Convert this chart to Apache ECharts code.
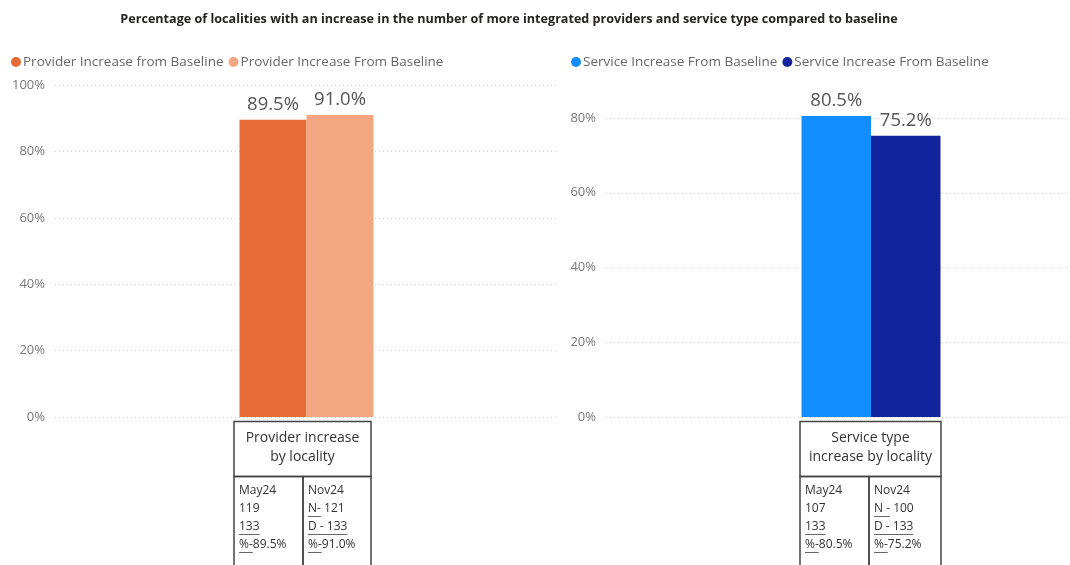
<!DOCTYPE html>
<html>
<head>
<meta charset="utf-8">
<script src="https://cdn.jsdelivr.net/npm/echarts@6/dist/echarts.min.js"></script>
<style>
  html, body { margin: 0; padding: 0; background: #fff; }
  #chart { width: 1070px; height: 565px; }
</style>
</head>
<body>
<div id="chart"></div>
<script>
// ---------- data ----------
const chartTitle = 'Percentage of localities with an increase in the number of more integrated providers and service type compared to baseline';
const providerCategory = ['Provider increase by locality'];
const providerSeriesNames = ['Provider Increase from Baseline', 'Provider Increase From Baseline'];
const providerMay = [89.5];
const providerNov = [91.0];
const serviceCategory = ['Service type increase by locality'];
const serviceSeriesNames = ['Service Increase From Baseline', 'Service Increase From Baseline\u200b'];
const serviceMay = [80.5];
const serviceNov = [75.2];
const providerTicks = [0, 20, 40, 60, 80, 100];
const serviceTicks = [0, 20, 40, 60, 80];

const providerHeader = ['Provider increase', 'by locality'];
const providerMayLines = ['May24', '119', '133', '%-89.5%'];
const providerMayUnder = ['', '', '133', '%-'];
const providerNovLines = ['Nov24', 'N- 121', 'D - 133', '%-91.0%'];
const providerNovUnder = ['', 'N-', 'D - 133', '%-'];
const serviceHeader = ['Service type', 'increase by locality'];
const serviceMayLines = ['May24', '107', '133', '%-80.5%'];
const serviceMayUnder = ['', '', '133', '%-'];
const serviceNovLines = ['Nov24', 'N - 100', 'D - 133', '%-75.2%'];
const serviceNovUnder = ['', 'N -', 'D - 133', '%-'];

// ---------- styles ----------
const FONT = "'Open Sans', 'Noto Sans', sans-serif";
const colors = ['#E66C37', '#F4A683', '#118DFF', '#12239E'];

const chart = echarts.init(document.getElementById('chart'), null, { renderer: 'canvas' });

const ctx = document.createElement('canvas').getContext('2d');
function textW(t, size) { ctx.font = size + 'px ' + FONT; return ctx.measureText(t).width; }

const splitLine = { show: true, lineStyle: { color: '#cfcfcf', type: [1, 3], width: 1 } };
const yLabel = { color: '#777', fontSize: 13, fontFamily: FONT, margin: 10, formatter: v => v + '%' };

function barSeries(name, data, color, xi, yi) {
  return {
    type: 'bar', name, data, xAxisIndex: xi, yAxisIndex: yi,
    barWidth: xi === 0 ? 67 : 69.5, barGap: '0%',
    itemStyle: { color },
    label: { show: true, position: 'top', distance: 6, formatter: p => p.value.toFixed(1) + '%',
      color: '#555', fontSize: 18.5, fontFamily: FONT }
  };
}

// ---------- table graphics ----------
const graphics = [];
function box(x, y, w, h) {
  graphics.push({ type: 'rect', shape: { x, y, width: w, height: h },
    style: { fill: 'none', stroke: '#444', lineWidth: 1.5 } });
}
function addTable(x0, headW, leftW, headLines, mayLines, mayUnder, novLines, novUnder) {
  const y0 = 421.5, headH = 55;
  box(x0, y0, headW, headH);
  box(x0, y0 + headH, leftW, 120);
  box(x0 + leftW, y0 + headH, headW - leftW, 120);
  headLines.forEach((t, i) => {
    graphics.push({ type: 'text', x: x0 + headW / 2, y: y0 + 17 + i * 19,
      style: { text: t, fill: '#333', font: '14px ' + FONT, align: 'center', verticalAlign: 'middle' } });
  });
  [[mayLines, mayUnder, x0 + 5], [novLines, novUnder, x0 + leftW + 5]].forEach(([lines, under, tx]) => {
    lines.forEach((t, i) => {
      const ty = y0 + headH + 14 + i * 18;
      graphics.push({ type: 'text', x: tx, y: ty,
        style: { text: t, fill: '#333', font: '12px ' + FONT, align: 'left', verticalAlign: 'middle' } });
      if (under[i]) {
        const w = textW(under[i], 12);
        graphics.push({ type: 'line', shape: { x1: tx, y1: ty + 8, x2: tx + w, y2: ty + 8 },
          style: { stroke: '#666', lineWidth: 1 } });
      }
    });
  });
}
addTable(234, 137, 69, providerHeader, providerMayLines, providerMayUnder, providerNovLines, providerNovUnder);
addTable(800, 141, 69, serviceHeader, serviceMayLines, serviceMayUnder, serviceNovLines, serviceNovUnder);

const option = {
  animation: false,
  backgroundColor: '#fff',
  title: { text: chartTitle, left: 504, top: 8, textAlign: 'center',
    textStyle: { fontSize: 12.6, fontWeight: 'bold', color: '#252423', fontFamily: FONT } },
  legend: [
    { data: providerSeriesNames, left: 6, top: 50, icon: 'circle', itemWidth: 10, itemHeight: 10, itemGap: 5,
      textStyle: { color: '#666', fontSize: 13.5, fontFamily: FONT, padding: [0, 0, 0, -3] } },
    { data: serviceSeriesNames, left: 566, top: 50, icon: 'circle', itemWidth: 10, itemHeight: 10, itemGap: 5,
      textStyle: { color: '#666', fontSize: 13.5, fontFamily: FONT, padding: [0, 0, 0, -3] } }
  ],
  grid: [
    { left: 55, width: 503, top: 85, bottom: 148 },
    { left: 672, right: 0, top: 43, bottom: 148 },
    { left: 606, right: 0, top: 118, bottom: 148 }
  ],
  xAxis: [
    { type: 'category', gridIndex: 0, data: providerCategory, axisLine: { show: false }, axisTick: { show: false }, axisLabel: { show: false } },
    { type: 'category', gridIndex: 1, data: serviceCategory, axisLine: { show: false }, axisTick: { show: false }, axisLabel: { show: false } },
    { type: 'category', gridIndex: 2, data: serviceCategory, show: false }
  ],
  yAxis: [
    { type: 'value', gridIndex: 0, min: providerTicks[0], max: providerTicks[providerTicks.length - 1], interval: 20,
      axisLabel: yLabel, splitLine, axisLine: { show: false }, axisTick: { show: false } },
    { type: 'value', gridIndex: 1, min: 0, max: 100, show: false, splitLine: { show: false } },
    { type: 'value', gridIndex: 2, min: serviceTicks[0], max: serviceTicks[serviceTicks.length - 1], interval: 20,
      axisLabel: yLabel, splitLine, axisLine: { show: false }, axisTick: { show: false } }
  ],
  series: [
    barSeries(providerSeriesNames[0], providerMay, colors[0], 0, 0),
    barSeries(providerSeriesNames[1], providerNov, colors[1], 0, 0),
    barSeries(serviceSeriesNames[0], serviceMay, colors[2], 1, 1),
    barSeries(serviceSeriesNames[1], serviceNov, colors[3], 1, 1)
  ],
  graphic: graphics
};
chart.setOption(option);
</script>
</body>
</html>
